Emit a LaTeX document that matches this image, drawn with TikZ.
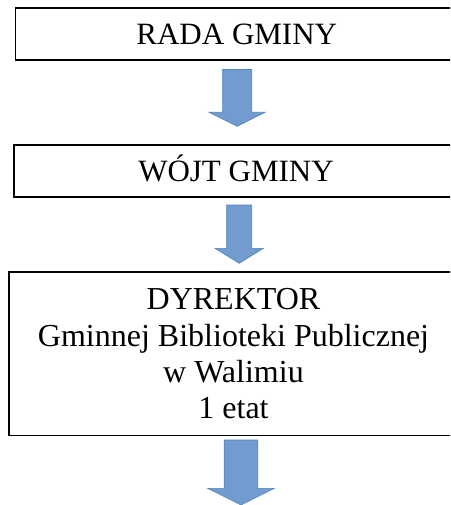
\documentclass[tikz,border=0pt]{standalone}
\usepackage{fontspec}
\setmainfont{Liberation Serif}
\newfontfamily\tmsfont{Liberation Serif}
\definecolor{arrowfill}{RGB}{114,155,208}
\definecolor{arrowline}{RGB}{79,129,189}
\tikzset{
  box/.style={draw=black, line width=1.8pt, rectangle, inner sep=0pt,
    font=\tmsfont\fontsize{31}{36}\selectfont, align=center},
  onebox/.style={box, text height=21pt, text depth=0pt},
  bigbox/.style={box, font=\tmsfont\fontsize{32}{36.3}\selectfont},
  blockarrow/.style={fill=arrowfill, draw=arrowline, line width=0.6pt, line join=miter}
}
% #1 center x, #2 top y, #3 head base y, #4 tip y, #5 shaft half width, #6 head half width
\newcommand{\blkarrow}[6]{%
  \draw[blockarrow] (#1-#5,#2) -- (#1+#5,#2) -- (#1+#5,#3) -- (#1+#6,#3)
    -- (#1,#4) -- (#1-#6,#3) -- (#1-#5,#3) -- cycle;}
\begin{document}
\begin{tikzpicture}[x=1pt,y=-1pt]
\useasboundingbox (0,0) rectangle (450,505);
\clip (0,0) rectangle (450,505);
\node[onebox, minimum width=442.5pt, minimum height=52pt] (rada) at (236.75,34) {RADA GMINY};
\node[onebox, minimum width=444pt, minimum height=52pt] (wojt) at (236,170.7) {WÓJT GMINY};
\node[bigbox, minimum width=449pt, minimum height=163.5pt] (dyr) at (233.5,353.75)
  {DYREKTOR\\Gminnej Biblioteki Publicznej\\w Walimiu\\1 etat};
\blkarrow{237.2}{69.5}{112.3}{126.3}{14.5}{28}
\blkarrow{239.2}{205}{248.3}{263.3}{12.5}{24.2}
\blkarrow{241}{440}{488.3}{505}{16.8}{33.3}
\end{tikzpicture}
\end{document}
